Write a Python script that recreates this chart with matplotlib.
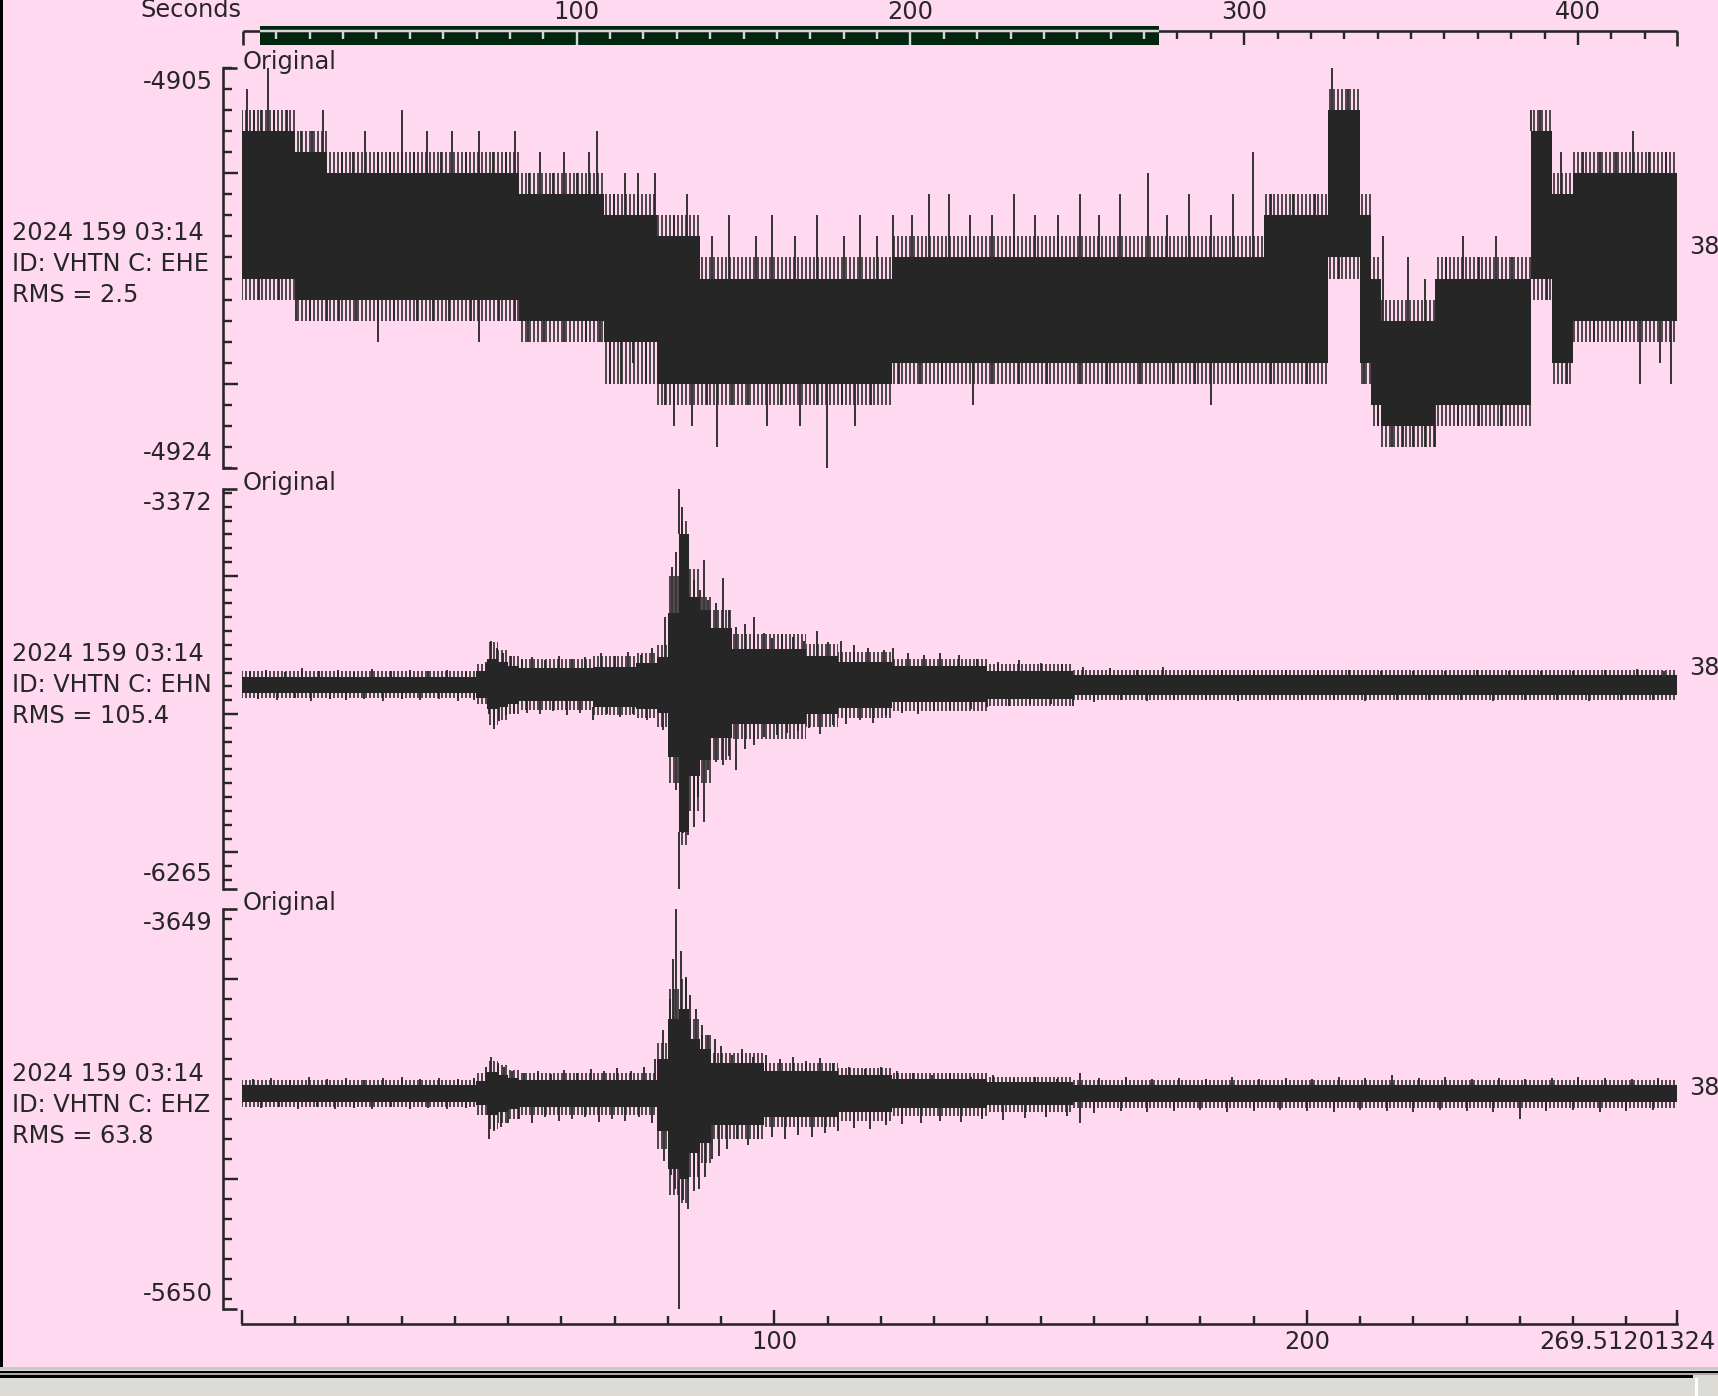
import numpy as np
import matplotlib
matplotlib.use("Agg")
import matplotlib.pyplot as plt
from matplotlib.ticker import MultipleLocator, FixedLocator
from matplotlib.lines import Line2D
from matplotlib.patches import Rectangle

# ---------------- data ----------------
WINDOW_LEN = 269.51201324
TOTAL_SECONDS = 429.7
WINDOW_START = 5.0
BIN = 2.0

station_info = [
    ("2024 159 03:14", "ID: VHTN C: EHE", "RMS = 2.5"),
    ("2024 159 03:14", "ID: VHTN C: EHN", "RMS = 105.4"),
    ("2024 159 03:14", "ID: VHTN C: EHZ", "RMS = 63.8"),
]
y_max_labels = [-4905, -3372, -3649]
y_min_labels = [-4924, -6265, -5650]

# solid core of each trace, per 2 s bin (counts)
ehe_hi = [-4908]*5 + [-4909]*3 + [-4910]*18 + [-4911]*8 + [-4912]*5 + [-4913]*4 + \
         [-4915]*18 + [-4914]*35 + [-4912]*6 + [-4907]*3 + [-4912] + [-4915] + [-4917]*5 + \
         [-4915]*9 + [-4908]*2 + [-4911]*2 + [-4910]*10
ehe_lo = [-4915]*5 + [-4916]*21 + [-4917]*8 + [-4918]*5 + [-4920]*22 + [-4919]*41 + \
         [-4914]*3 + [-4919] + [-4921] + [-4922]*5 + [-4921]*9 + [-4915]*2 + [-4919]*2 + [-4917]*10
# densely spiked fringe around the core, per 2 s bin (counts)
ehe_fr_hi = [-4907]*5 + [-4908]*3 + [-4909]*18 + [-4910]*8 + [-4911]*5 + [-4912]*4 + \
            [-4914]*18 + [-4913]*35 + [-4911]*6 + [-4906]*3 + [-4911] + [-4914] + [-4916]*5 + \
            [-4914]*9 + [-4907]*2 + [-4910]*2 + [-4909]*10
ehe_fr_lo = [-4916]*5 + [-4917]*21 + [-4918]*8 + [-4920]*5 + [-4921]*22 + [-4920]*41 + \
            [-4915]*3 + [-4920] + [-4922] + [-4923]*5 + [-4922]*9 + [-4916]*2 + [-4920]*2 + [-4918]*10

ehn_hi = [-4730]*22 + [-4690, -4600, -4620, -4650] + [-4665]*7 + [-4659]*4 + [-4630]*2 + \
         [-4590, -4270, -3700, -4150, -4250] + [-4380]*2 + [-4530]*7 + [-4580]*3 + \
         [-4620]*5 + [-4655]*9 + [-4685]*8 + [-4720]*57
ehn_lo = [-4845]*22 + [-4885, -4960, -4950, -4925] + [-4905]*7 + [-4949]*4 + [-4960]*2 + \
         [-4990, -5310, -5850, -5450, -5330] + [-5170]*2 + [-5070]*7 + [-5000]*3 + \
         [-4955]*5 + [-4915]*9 + [-4890]*8 + [-4860]*57
ehn_fr_hi = [-4690]*22 + [-4640, -4480, -4540, -4580] + [-4600]*7 + [-4580]*4 + [-4560]*2 + \
            [-4500, -4000, -3600, -3950, -4150] + [-4250]*2 + [-4420]*7 + [-4490]*3 + \
            [-4550]*5 + [-4600]*9 + [-4640]*8 + [-4680]*57
ehn_fr_lo = [-4885]*22 + [-4930, -5080, -5040, -5000] + [-4970]*7 + [-5010]*4 + [-5030]*2 + \
            [-5090, -5500, -5950, -5700, -5500] + [-5330]*2 + [-5180]*7 + [-5090]*3 + \
            [-5030]*5 + [-4980]*9 + [-4940]*8 + [-4895]*57

ehz_hi = [-4531]*22 + [-4510, -4465, -4480, -4495] + [-4505]*13 + \
         [-4400, -4200, -4150, -4300, -4350] + [-4420]*5 + [-4460]*7 + [-4480]*5 + \
         [-4500]*9 + [-4515]*8 + [-4530]*57
ehz_lo = [-4613]*22 + [-4630, -4680, -4665, -4650] + [-4640]*13 + \
         [-4760, -4950, -5000, -4870, -4820] + [-4730]*5 + [-4690]*7 + [-4665]*5 + \
         [-4645]*9 + [-4630]*8 + [-4615]*57
ehz_fr_hi = [-4505]*22 + [-4470, -4410, -4430, -4455] + [-4470]*13 + \
            [-4320, -4050, -4000, -4200, -4280] + [-4370]*5 + [-4420]*7 + [-4445]*5 + \
            [-4470]*9 + [-4490]*8 + [-4505]*57
ehz_fr_lo = [-4640]*22 + [-4680, -4750, -4720, -4700] + [-4680]*13 + \
            [-4850, -5080, -5120, -4990, -4920] + [-4800]*5 + [-4740]*7 + [-4710]*5 + \
            [-4685]*9 + [-4665]*8 + [-4645]*57

# isolated long spikes: (time s, extreme value)
ehe_up = [(0.85, -4906), (2.3, -4907), (3.5, -4907), (4.8, -4905), (6.0, -4907), (8.5, -4907),
          (11.1, -4908), (13.2, -4908), (15.3, -4907), (18.8, -4909), (20.8, -4909),
          (23.1, -4908), (25.6, -4909), (27.8, -4909), (30.1, -4907), (32.3, -4909),
          (34.8, -4908), (37.3, -4909), (39.5, -4908), (42.0, -4909), (44.5, -4908),
          (47.2, -4909), (49.6, -4909), (51.3, -4908), (53.9, -4910), (56.0, -4909),
          (58.5, -4910), (60.5, -4909), (63.0, -4910), (65.1, -4909), (66.7, -4908),
          (69.8, -4911), (71.9, -4910), (74.3, -4910), (77.6, -4910), (81.1, -4912),
          (83.6, -4911), (88.3, -4913), (91.4, -4912), (96.6, -4913), (99.6, -4912),
          (103.8, -4913), (107.9, -4912), (113.0, -4913), (116.1, -4912), (119.2, -4913),
          (122.3, -4912), (125.8, -4912), (129.1, -4911), (132.8, -4911), (136.7, -4912),
          (140.8, -4912), (144.9, -4911), (149.0, -4912), (153.2, -4912), (157.3, -4911),
          (161.0, -4912), (164.9, -4911), (170.2, -4910), (173.7, -4912), (177.8, -4911),
          (181.9, -4912), (186.1, -4911), (189.8, -4909), (193.3, -4911), (197.4, -4911),
          (201.5, -4911), (204.8, -4905), (207.7, -4906), (208.9, -4907), (214.3, -4913),
          (219.0, -4914), (222.1, -4915), (226.2, -4914), (229.3, -4913), (232.4, -4914),
          (235.5, -4913), (238.6, -4914), (242.1, -4907), (243.7, -4907), (247.8, -4909),
          (251.9, -4909), (255.0, -4909), (258.1, -4909), (261.2, -4908), (264.3, -4909),
          (267.4, -4909)]
ehe_dn = [(3.1, -4916), (7.0, -4916), (10.1, -4917), (12.8, -4917), (15.9, -4917),
          (18.3, -4917), (21.4, -4917), (25.6, -4918), (28.6, -4917), (32.8, -4917),
          (35.8, -4917), (38.9, -4917), (43.0, -4917), (44.5, -4918), (48.2, -4917),
          (51.3, -4917), (53.7, -4918), (56.8, -4918), (60.5, -4918), (64.6, -4918),
          (67.3, -4918), (69.2, -4920), (71.2, -4920), (73.5, -4919), (75.9, -4920),
          (79.5, -4921), (81.1, -4922), (84.6, -4922), (87.3, -4921), (89.3, -4923),
          (92.0, -4921), (95.1, -4921), (98.6, -4922), (101.3, -4921), (104.8, -4922),
          (107.9, -4921), (109.9, -4924), (112.6, -4921), (115.1, -4922), (118.2, -4921),
          (123.3, -4920), (127.4, -4920), (131.5, -4920), (137.3, -4921), (140.8, -4920),
          (145.9, -4920), (151.1, -4920), (157.3, -4920), (162.4, -4920), (168.6, -4920),
          (174.8, -4920), (178.9, -4920), (182.0, -4921), (187.1, -4920), (193.3, -4920),
          (200.1, -4920), (206.0, -4915), (210.8, -4920), (213.4, -4922), (215.9, -4923),
          (218.0, -4923), (220.0, -4923), (222.1, -4923), (224.1, -4923), (228.3, -4922),
          (232.4, -4922), (236.5, -4922), (239.6, -4921), (245.1, -4916), (248.8, -4920),
          (254.0, -4918), (259.1, -4918), (262.6, -4920), (266.3, -4919), (268.4, -4920)]

ehn_up = [(1.5, -4690), (4.5, -4680), (8.0, -4695), (11.3, -4670), (14.5, -4690), (18.0, -4680),
          (21.0, -4695), (24.5, -4675), (28.0, -4690), (31.5, -4680), (35.0, -4690),
          (38.5, -4680), (42.0, -4690), (45.8, -4620), (46.8, -4470), (47.8, -4520),
          (49.0, -4560), (50.5, -4580), (52.5, -4600), (54.5, -4590), (57.0, -4610),
          (59.5, -4580), (62.0, -4600), (64.5, -4590), (67.5, -4560), (70.0, -4580),
          (72.5, -4550), (75.0, -4570), (77.0, -4520), (79.5, -4300), (80.8, -3936),
          (81.5, -3828), (82.1, -3372), (82.6, -3502), (83.5, -3864), (84.8, -4030),
          (86.0, -4100), (86.7, -3885), (87.6, -4175), (89.0, -4200), (90.3, -4016),
          (91.5, -4250), (92.7, -4370), (94.5, -4350), (96.1, -4298), (98.1, -4414),
          (99.5, -4450), (101.5, -4420), (103.5, -4440), (105.5, -4470), (107.9, -4400),
          (110.0, -4480), (112.5, -4470), (115.0, -4500), (117.5, -4520), (120.5, -4540),
          (122.3, -4520), (125.0, -4560), (128.0, -4570), (131.0, -4560), (134.6, -4570),
          (138.0, -4600), (142.0, -4620), (146.0, -4610), (150.0, -4630), (154.0, -4640),
          (158.0, -4660), (163.0, -4670), (168.0, -4680), (173.0, -4660), (178.0, -4690),
          (184.0, -4680), (190.0, -4690), (196.0, -4680), (202.0, -4690), (208.0, -4680),
          (214.0, -4690), (220.0, -4685), (226.0, -4690), (232.0, -4680), (238.0, -4690),
          (244.0, -4685), (250.0, -4690), (256.0, -4680), (262.0, -4675), (267.0, -4690)]
ehn_dn = [(3.0, -4890), (6.5, -4900), (10.0, -4885), (13.0, -4905), (16.5, -4890), (19.5, -4900),
          (23.0, -4890), (26.5, -4905), (30.0, -4890), (33.5, -4900), (37.0, -4890),
          (40.5, -4905), (43.5, -4895), (46.3, -5000), (47.3, -5105), (48.3, -5050),
          (49.6, -5010), (51.0, -4990), (53.5, -4990), (56.0, -5000), (58.5, -4980),
          (61.0, -5010), (63.5, -4990), (66.0, -5040), (68.5, -5000), (71.0, -5020),
          (73.5, -5000), (76.0, -5043), (79.0, -5115), (80.8, -5310), (81.5, -5549),
          (82.1, -6265), (82.8, -5860), (83.7, -5874), (84.8, -5816), (85.6, -5600),
          (86.7, -5780), (87.5, -5404), (89.0, -5346), (90.3, -5368), (91.5, -5300),
          (92.7, -5404), (94.5, -5250), (96.1, -5223), (98.1, -5166), (100.5, -5150),
          (102.4, -5137), (104.5, -5120), (106.5, -5100), (108.5, -5144), (111.0, -5080),
          (113.5, -5070), (116.0, -5040), (118.5, -5065), (121.0, -5010), (124.0, -4990),
          (127.0, -5000), (130.0, -4980), (133.0, -4970), (137.0, -4960), (140.0, -4950),
          (144.0, -4940), (148.0, -4930), (152.0, -4925), (156.0, -4940), (160.0, -4910),
          (165.0, -4900), (170.0, -4905), (175.0, -4900), (181.0, -4895), (187.0, -4905),
          (193.0, -4900), (199.0, -4895), (205.0, -4900), (211.0, -4905), (217.0, -4900),
          (223.0, -4895), (229.0, -4900), (235.0, -4905), (241.0, -4895), (247.0, -4900),
          (253.0, -4905), (259.0, -4895), (265.0, -4900)]

ehz_up = [(2.0, -4500), (5.5, -4495), (9.0, -4505), (12.5, -4490), (16.0, -4500), (19.5, -4495),
          (23.0, -4505), (26.5, -4495), (30.0, -4490), (33.5, -4500), (37.0, -4495),
          (40.5, -4500), (43.5, -4495), (45.8, -4440), (46.8, -4391), (48.0, -4420),
          (49.3, -4440), (50.8, -4460), (53.0, -4470), (55.5, -4460), (58.0, -4475),
          (60.5, -4455), (63.0, -4470), (65.5, -4450), (68.0, -4460), (70.5, -4445),
          (73.0, -4460), (75.5, -4440), (77.5, -4400), (79.0, -4254), (80.3, -4100),
          (81.0, -3900), (81.5, -3649), (82.5, -3859), (83.3, -3990), (84.2, -4080),
          (85.3, -4150), (86.4, -4227), (87.5, -4280), (88.8, -4300), (90.0, -4336),
          (92.0, -4380), (94.0, -4350), (96.0, -4391), (98.5, -4380), (101.0, -4400),
          (103.5, -4390), (106.0, -4410), (108.5, -4395), (111.0, -4420), (114.0, -4440),
          (117.0, -4450), (120.0, -4440), (123.0, -4460), (126.0, -4470), (129.5, -4480),
          (133.0, -4470), (137.0, -4490), (141.0, -4480), (145.0, -4495), (149.0, -4490),
          (153.0, -4500), (157.3, -4470), (161.0, -4495), (166.0, -4490), (171.0, -4500),
          (176.0, -4495), (181.0, -4500), (186.0, -4490), (191.0, -4500), (196.0, -4495),
          (201.0, -4500), (206.0, -4490), (211.0, -4495), (216.0, -4480), (221.0, -4495),
          (226.0, -4490), (231.0, -4500), (236.0, -4495), (241.0, -4500), (246.0, -4495),
          (251.0, -4490), (256.0, -4495), (261.0, -4500), (266.0, -4495)]
ehz_dn = [(3.5, -4645), (7.0, -4640), (10.5, -4650), (14.0, -4640), (17.5, -4648), (21.0, -4642),
          (24.5, -4650), (28.0, -4640), (31.5, -4648), (35.0, -4645), (38.5, -4650),
          (42.0, -4642), (46.3, -4802), (47.3, -4760), (48.6, -4740), (50.0, -4720),
          (52.0, -4700), (54.5, -4720), (57.0, -4690), (59.5, -4710), (62.0, -4700),
          (64.5, -4690), (67.0, -4715), (69.5, -4700), (72.0, -4710), (74.5, -4690),
          (77.0, -4720), (79.3, -4912), (80.6, -4980), (81.3, -5050), (82.1, -5650),
          (82.9, -5104), (83.8, -5150), (84.8, -5060), (85.8, -5049), (87.0, -4990),
          (88.2, -4900), (89.5, -4884), (91.0, -4850), (93.0, -4802), (95.0, -4830),
          (97.0, -4800), (99.5, -4790), (102.0, -4800), (104.5, -4780), (107.0, -4790),
          (109.5, -4770), (112.0, -4760), (115.0, -4745), (118.0, -4750), (121.0, -4730),
          (124.0, -4725), (127.5, -4720), (131.0, -4710), (135.0, -4715), (139.0, -4700),
          (143.0, -4705), (147.0, -4695), (151.0, -4690), (155.0, -4685), (157.3, -4720),
          (160.0, -4670), (165.0, -4660), (170.0, -4665), (175.0, -4660), (180.0, -4655),
          (185.0, -4665), (190.0, -4660), (195.0, -4655), (200.0, -4660), (205.0, -4665),
          (210.0, -4655), (215.0, -4660), (220.0, -4665), (225.0, -4655), (230.0, -4660),
          (235.0, -4665), (240.0, -4700), (245.0, -4660), (250.0, -4655), (255.0, -4665),
          (260.0, -4660), (265.0, -4655)]

ehe_ylim = (-4924, -4905)
ehn_ylim = (-6265, -3372)
ehz_ylim = (-5650, -3649)

top_tick_labels = ["100", "200", "300", "400"]
bottom_tick_labels = ["100", "200", "269.51201324"]

# ---------------- style / layout ----------------
W, H = 1718, 1396
DPI = 72
BG = "#ffd9f0"
INK = "#262626"
FS = 24
plt.rcParams["hatch.linewidth"] = 1.6

fig = plt.figure(figsize=(W / DPI, H / DPI), dpi=DPI, facecolor=BG)


def fx(x):
    return x / W


def fy(y):
    return 1 - y / H


def fig_line(xs, ys, **kw):
    fig.add_artist(Line2D([fx(x) for x in xs], [fy(y) for y in ys],
                          transform=fig.transFigure, **kw))


X0, X1 = 242, 1677
panels = [
    (68, 468, ehe_hi, ehe_lo, ehe_fr_hi, ehe_fr_lo, ehe_ylim, 1, 10, ehe_up, ehe_dn),
    (489, 889, ehn_hi, ehn_lo, ehn_fr_hi, ehn_fr_lo, ehn_ylim, 100, 1000, ehn_up, ehn_dn),
    (909, 1309, ehz_hi, ehz_lo, ehz_fr_hi, ehz_fr_lo, ehz_ylim, 100, 1000, ehz_up, ehz_dn),
]

for i, (ytop, ybot, hi, lo, fhi, flo, ylim, mnr, mjr, ups, dns) in enumerate(panels):
    ax = fig.add_axes([fx(X0), fy(ybot), (X1 - X0) / W, (ybot - ytop) / H])
    ax.set_facecolor("none")
    ax.set_xlim(0, WINDOW_LEN)
    ax.set_ylim(*ylim)
    hi = np.array(hi, float)
    lo = np.array(lo, float)
    edges = np.arange(len(hi) + 1) * BIN
    # fringe of dense spikes
    ax.stairs(np.array(fhi, float), edges, baseline=hi, fill=True, facecolor="none",
              edgecolor=INK, lw=0, hatch="|||")
    ax.stairs(lo, edges, baseline=np.array(flo, float), fill=True, facecolor="none",
              edgecolor=INK, lw=0, hatch="|||")
    # solid core
    ax.stairs(hi, edges, baseline=lo, fill=True, color=INK, lw=0)
    n = len(hi)
    ut = [t for t, v in ups]
    uv = [v for t, v in ups]
    ub = [hi[min(int(t // BIN), n - 1)] for t in ut]
    ax.vlines(ut, ub, uv, color=INK, lw=1.8, clip_on=False)
    dt = [t for t, v in dns]
    dv = [v for t, v in dns]
    db = [lo[min(int(t // BIN), n - 1)] for t in dt]
    ax.vlines(dt, dv, db, color=INK, lw=1.8, clip_on=False)
    for s in ["top", "right", "bottom"]:
        ax.spines[s].set_visible(False)
    ax.spines["left"].set_position(("outward", 19))
    ax.spines["left"].set_linewidth(2.6)
    ax.spines["left"].set_color(INK)
    ax.yaxis.set_major_locator(MultipleLocator(mjr))
    ax.yaxis.set_minor_locator(MultipleLocator(mnr))
    ax.tick_params(axis="y", which="major", direction="in", length=15, width=2.4,
                   color=INK, labelleft=False)
    ax.tick_params(axis="y", which="minor", direction="in", length=9, width=2.4, color=INK)
    ax.set_xticks([])
    # bracket ends
    fig_line([223, 237], [ytop, ytop], color=INK, lw=2.6, solid_capstyle="butt")
    fig_line([223, 237], [ybot, ybot], color=INK, lw=2.6, solid_capstyle="butt")
    # labels
    fig.text(fx(243), fy(ytop + 1), "Original", fontsize=FS, color=INK, ha="left", va="baseline")
    fig.text(fx(213), fy(ytop + 14), str(y_max_labels[i]), fontsize=FS, color=INK,
             ha="right", va="center")
    fig.text(fx(213), fy(ybot - 15), str(y_min_labels[i]), fontsize=FS, color=INK,
             ha="right", va="center")
    for j, s in enumerate(station_info[i]):
        fig.text(fx(12), fy(ytop + 165 + 31 * j), s, fontsize=FS, color=INK,
                 ha="left", va="center")
    fig.text(fx(1689), fy(ytop + 179), "38", fontsize=FS, color=INK, ha="left", va="center")

# ---------------- bottom time axis ----------------
axb = fig.add_axes([fx(X0), fy(1324), (X1 - X0) / W, 0.001])
axb.set_facecolor("none")
axb.set_xlim(0, WINDOW_LEN)
axb.set_yticks([])
for s in ["top", "right", "left"]:
    axb.spines[s].set_visible(False)
axb.spines["bottom"].set_linewidth(2.6)
axb.spines["bottom"].set_color(INK)
axb.xaxis.set_major_locator(FixedLocator([0, 100, 200, WINDOW_LEN]))
axb.xaxis.set_minor_locator(MultipleLocator(10))
axb.tick_params(axis="x", which="major", direction="in", length=14, width=2.4, color=INK,
                labelbottom=False)
axb.tick_params(axis="x", which="minor", direction="in", length=8, width=2.4, color=INK)
for v, lab in zip([100, 200], bottom_tick_labels[:2]):
    xp = X0 + v / WINDOW_LEN * (X1 - X0)
    fig.text(fx(xp), fy(1342), lab, fontsize=FS, color=INK, ha="center", va="center")
fig.text(fx(1539), fy(1342), bottom_tick_labels[2], fontsize=FS, color=INK,
         ha="left", va="center")

# ---------------- top overview axis ----------------
T0, T1 = 243, 1677
axt = fig.add_axes([fx(T0), fy(46), (T1 - T0) / W, 15 / H])
axt.set_facecolor("none")
axt.set_xlim(0, TOTAL_SECONDS)
axt.set_ylim(46, 31)
axt.axis("off")
axt.add_patch(Rectangle((WINDOW_START, 26), WINDOW_LEN, 19, color="#00260f", lw=0,
                        clip_on=False))
axt.plot([0, TOTAL_SECONDS], [31, 31], color=INK, lw=2.6, clip_on=False,
         solid_capstyle="butt")
axt.plot([WINDOW_START, WINDOW_START + WINDOW_LEN], [31, 31], color="#d6d6d6", lw=2.4,
         clip_on=False, solid_capstyle="butt")
for t in np.arange(10, TOTAL_SECONDS, 10):
    inside = WINDOW_START <= t <= WINDOW_START + WINDOW_LEN
    major = abs(t % 100) < 1e-6
    axt.plot([t, t], [31, 45 if major else 39], color="#d6d6d6" if inside else INK,
             lw=2.4, clip_on=False, solid_capstyle="butt")
axt.plot([0, 0], [31, 45], color=INK, lw=2.6, clip_on=False, solid_capstyle="butt")
axt.plot([TOTAL_SECONDS, TOTAL_SECONDS], [31, 46], color=INK, lw=2.6, clip_on=False,
         solid_capstyle="butt")
for v, lab in zip([100, 200, 300, 400], top_tick_labels):
    xp = T0 + v / TOTAL_SECONDS * (T1 - T0)
    fig.text(fx(xp), fy(12), lab, fontsize=FS, color=INK, ha="center", va="center")
fig.text(fx(241), fy(17), "Seconds", fontsize=FS, color=INK, ha="right", va="baseline")

# ---------------- window frame ----------------
fig.add_artist(Rectangle((0, 0), fx(2.5), 1, transform=fig.transFigure, color="black", lw=0))
fig.add_artist(Rectangle((0, 0), 1, fy(1367), transform=fig.transFigure, color="#dcdbd6", lw=0))
fig.add_artist(Rectangle((0, fy(1370)), 1, 3 / H, transform=fig.transFigure, color="#c9c9c9", lw=0))
fig.add_artist(Rectangle((0, fy(1373)), 1, 2.2 / H, transform=fig.transFigure, color="black", lw=0))
fig.add_artist(Rectangle((0, fy(1375)), 1, 2 / H, transform=fig.transFigure, color="#a9a9a9", lw=0))
fig.add_artist(Rectangle((0, fy(1378)), fx(1693), 3 / H, transform=fig.transFigure, color="black", lw=0))
fig.add_artist(Rectangle((fx(1695), 0), 2.5 / W, fy(1378), transform=fig.transFigure,
                         color="white", lw=0))

fig.savefig("out.png", dpi=DPI, facecolor=BG)
